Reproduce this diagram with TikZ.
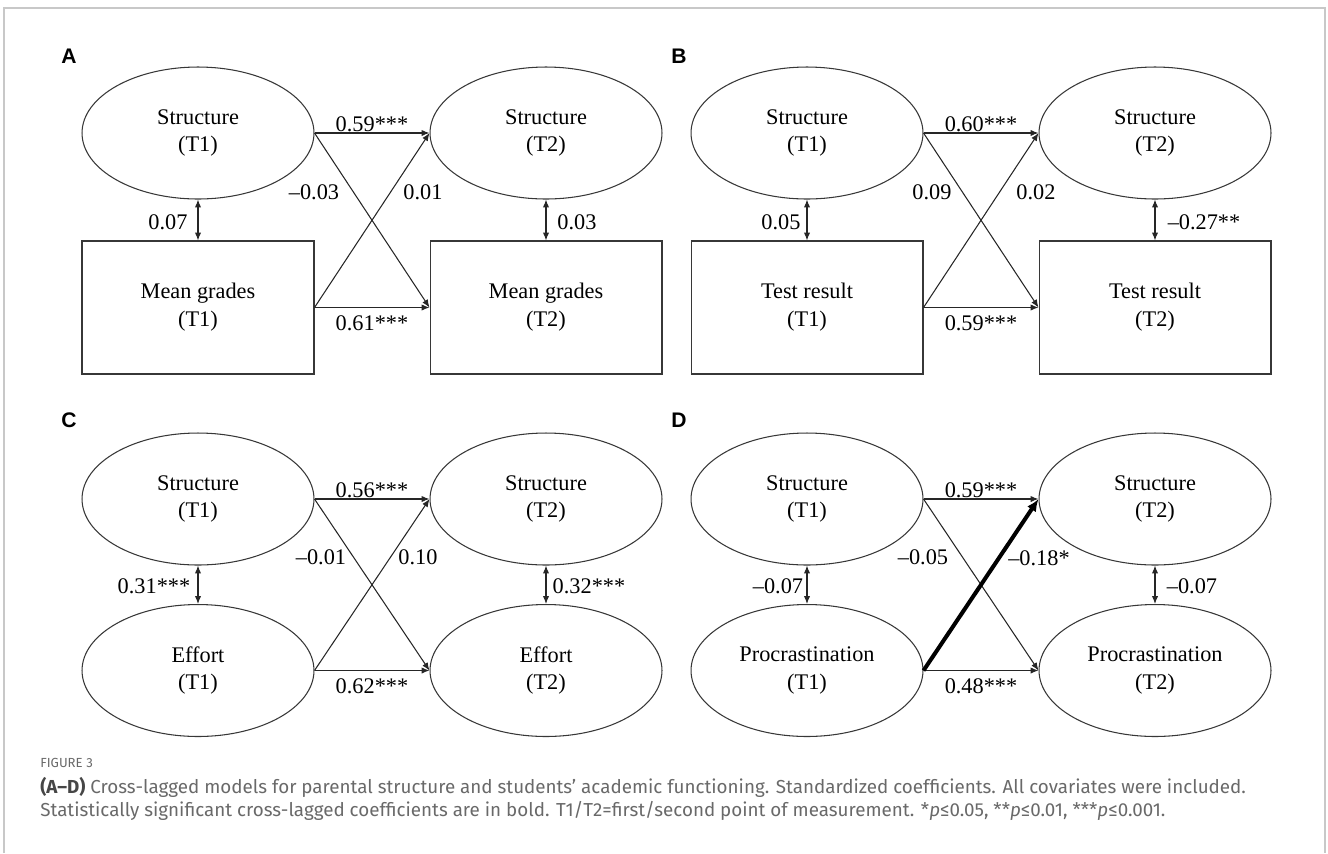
\documentclass[tikz,border=0pt]{standalone}
\usepackage{fontspec}
\setmainfont{Liberation Serif}
\newfontfamily\capfont{Fira Sans}
\newfontfamily\panelfont{Liberation Sans}
\usetikzlibrary{arrows.meta, shapes.geometric}
\definecolor{lineGray}{RGB}{55,55,55}
\definecolor{frameGray}{RGB}{200,200,200}
\definecolor{capGray}{RGB}{105,105,105}
\definecolor{capDark}{RGB}{70,70,70}
\tikzset{
    latent/.style={
        ellipse,
        draw=lineGray,
        line width=0.6pt,
        inner sep=0pt,
        align=center,
        minimum width=4.64cm,
        minimum height=2.64cm,
        font=\fontsize{12.7}{15.8}\selectfont
    },
    observed/.style={
        rectangle,
        draw=lineGray,
        line width=0.6pt,
        inner sep=0pt,
        align=center,
        minimum width=4.64cm,
        minimum height=2.66cm,
        font=\fontsize{12.7}{15.8}\selectfont
    },
    pathArrow/.style={-{Latex[length=4.5pt,width=3.6pt]}, line width=0.6pt, draw=black!85},
    boldArrow/.style={-{Latex[length=7pt,width=6pt]}, line width=2.3pt, draw=black},
    corrArrow/.style={{Latex[length=4.5pt,width=3.6pt]}-{Latex[length=4.5pt,width=3.6pt]}, line width=0.6pt, draw=black!85},
    coef/.style={inner sep=1.5pt, font=\fontsize{12.7}{14.2}\selectfont},
    panelLabel/.style={inner sep=0pt, font=\panelfont\bfseries\fontsize{12}{14}\selectfont},
    frame/.style={draw=frameGray, line width=0.9pt}
}

\begin{document}
\begin{tikzpicture}[x=0.02cm,y=-0.02cm]
    \useasboundingbox (0,0) rectangle (1328,853);
    \coordinate (fTL) at (4,8);
    \coordinate (fTR) at (1325,8);
    \coordinate (fBL) at (4,853);
    \coordinate (fBR) at (1325,853);
    \draw[frame] (fBL) -- (fTL) -- (fTR) -- (fBR);

    % panel A
    \node[panelLabel] (labA) at (69,56) {A};
    \node[latent] (aS1) at (198,133) {Structure\\(T1)};
    \node[latent] (aS2) at (546,133) {Structure\\(T2)};
    \node[observed] (aG1) at (198,307.5) {Mean grades\\(T1)};
    \node[observed] (aG2) at (546,307.5) {Mean grades\\(T2)};
    \draw[pathArrow] (aS1.east) -- node[coef, above=-1pt] (aC1) {0.59***} (aS2.west);
    \draw[pathArrow] (aG1.east) -- node[coef, below=3pt] (aC2) {0.61***} (aG2.west);
    \draw[pathArrow] (aS1.east) -- (aG2.west);
    \draw[pathArrow] (aG1.east) -- (aS2.west);
    \draw[corrArrow] (aS1.south) -- (aG1.north);
    \draw[corrArrow] (aS2.south) -- (aG2.north);
    \node[coef] (aC3) at (314,192) {\textendash0.03};
    \node[coef] (aC4) at (423,192) {0.01};
    \node[coef] (aC5) at (168,222) {0.07};
    \node[coef] (aC6) at (577,222) {0.03};

    % panel B
    \node[panelLabel] (labB) at (679,56) {B};
    \node[latent] (bS1) at (807,133) {Structure\\(T1)};
    \node[latent] (bS2) at (1155,133) {Structure\\(T2)};
    \node[observed] (bT1) at (807,307.5) {Test result\\(T1)};
    \node[observed] (bT2) at (1155,307.5) {Test result\\(T2)};
    \draw[pathArrow] (bS1.east) -- node[coef, above=-1pt] (bC1) {0.60***} (bS2.west);
    \draw[pathArrow] (bT1.east) -- node[coef, below=3pt] (bC2) {0.59***} (bT2.west);
    \draw[pathArrow] (bS1.east) -- (bT2.west);
    \draw[pathArrow] (bT1.east) -- (bS2.west);
    \draw[corrArrow] (bS1.south) -- (bT1.north);
    \draw[corrArrow] (bS2.south) -- (bT2.north);
    \node[coef] (bC3) at (932,192) {0.09};
    \node[coef] (bC4) at (1036,192) {0.02};
    \node[coef] (bC5) at (781,222) {0.05};
    \node[coef] (bC6) at (1204,222) {\textendash0.27**};

    % panel C
    \node[panelLabel] (labC) at (69,420) {C};
    \node[latent] (cS1) at (198,499) {Structure\\(T1)};
    \node[latent] (cS2) at (546,499) {Structure\\(T2)};
    \node[latent] (cE1) at (198,670.5) {Effort\\(T1)};
    \node[latent] (cE2) at (546,670.5) {Effort\\(T2)};
    \draw[pathArrow] (cS1.east) -- node[coef, above=-1pt] (cC1) {0.56***} (cS2.west);
    \draw[pathArrow] (cE1.east) -- node[coef, below=3pt] (cC2) {0.62***} (cE2.west);
    \draw[pathArrow] (cS1.east) -- (cE2.west);
    \draw[pathArrow] (cE1.east) -- (cS2.west);
    \draw[corrArrow] (cS1.south) -- (cE1.north);
    \draw[corrArrow] (cS2.south) -- (cE2.north);
    \node[coef] (cC3) at (321,557) {\textendash0.01};
    \node[coef] (cC4) at (418,557) {0.10};
    \node[coef] (cC5) at (154,586) {0.31***};
    \node[coef] (cC6) at (589,586) {0.32***};

    % panel D
    \node[panelLabel] (labD) at (679,420) {D};
    \node[latent] (dS1) at (807,499) {Structure\\(T1)};
    \node[latent] (dS2) at (1155,499) {Structure\\(T2)};
    \node[latent] (dP1) at (807,670.5) {Procrastination\\(T1)};
    \node[latent] (dP2) at (1155,670.5) {Procrastination\\(T2)};
    \draw[pathArrow] (dS1.east) -- node[coef, above=-1pt] (dC1) {0.59***} (dS2.west);
    \draw[pathArrow] (dP1.east) -- node[coef, below=3pt] (dC2) {0.48***} (dP2.west);
    \draw[pathArrow] (dS1.east) -- (dP2.west);
    \draw[boldArrow] (dP1.east) -- (dS2.west);
    \draw[corrArrow] (dS1.south) -- (dP1.north);
    \draw[corrArrow] (dS2.south) -- (dP2.north);
    \node[coef] (dC3) at (923,557) {\textendash0.05};
    \node[coef] (dC4) at (1039,558) {\textendash0.18*};
    \node[coef] (dC5) at (778,586) {\textendash0.07};
    \node[coef] (dC6) at (1192,586) {\textendash0.07};

    % caption
    \node[anchor=base west, inner sep=0pt, text=capGray, font=\capfont\fontsize{7.5}{9}\selectfont] (figNo) at (40,767) {FIGURE 3};
    \node[anchor=north west, inner sep=0pt, align=left, text=capGray, font=\capfont\fontsize{10.7}{13.2}\selectfont] (capText) at (40,777)
        {{\color{capDark}\textbf{(A\textendash D)}} Cross-lagged models for parental structure and students’ academic functioning. Standardized coefficients. All covariates were included.\\
        Statistically significant cross-lagged coefficients are in bold. T1/T2=first/second point of measurement. *\textit{p}≤0.05, **\textit{p}≤0.01, ***\textit{p}≤0.001.};
\end{tikzpicture}
\end{document}
